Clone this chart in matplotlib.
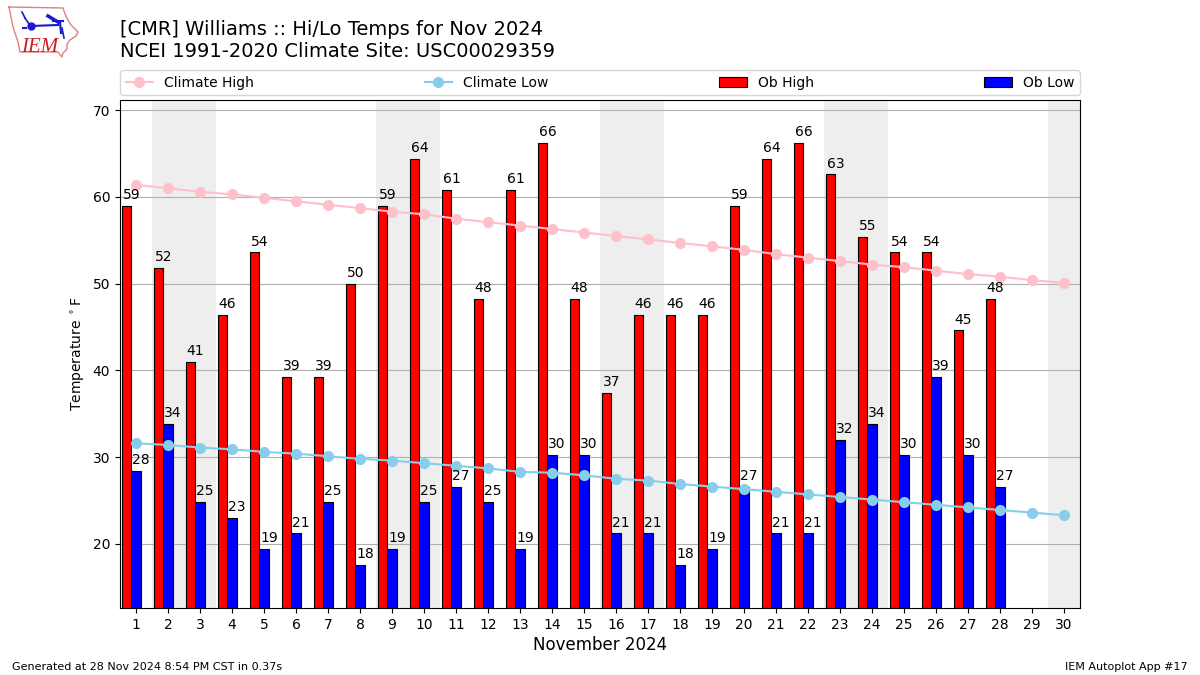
#!/usr/bin/env python3

import matplotlib
matplotlib.use('Agg')
from matplotlib import pyplot as plt
from matplotlib.lines import Line2D

days = list(range(1, 31))
ob_days = list(range(1, 29))
weekend_spans = [(2, 3), (9, 10), (16, 17), (23, 24), (30, 30)]

ob_high = [59, 51.8, 41, 46.4, 53.6, 39.2, 39.2, 50, 59, 64.4, 60.8, 48.2, 60.8, 66.2,
           48.2, 37.4, 46.4, 46.4, 46.4, 59, 64.4, 66.2, 62.6, 55.4, 53.6, 53.6, 44.6, 48.2]
ob_low = [28.4, 33.8, 24.8, 23, 19.4, 21.2, 24.8, 17.6, 19.4, 24.8, 26.6, 24.8, 19.4, 30.2,
          30.2, 21.2, 21.2, 17.6, 19.4, 26.6, 21.2, 21.2, 32, 33.8, 30.2, 39.2, 30.2, 26.6]
climate_high = [61.4, 61.0, 60.6, 60.3, 59.9, 59.5, 59.1, 58.7, 58.3, 58.0, 57.5, 57.1, 56.7, 56.3, 55.9,
                55.5, 55.1, 54.7, 54.3, 53.9, 53.4, 53.0, 52.6, 52.2, 51.9, 51.5, 51.1, 50.8, 50.4, 50.1]
climate_low = [31.6, 31.4, 31.1, 30.9, 30.6, 30.4, 30.1, 29.8, 29.6, 29.3, 29.0, 28.7, 28.3, 28.2, 27.9,
               27.5, 27.3, 26.9, 26.6, 26.3, 26.0, 25.7, 25.4, 25.1, 24.8, 24.5, 24.2, 23.9, 23.6, 23.3]

W, H = 1200, 675
BAR_W = 0.3

fig = plt.figure(figsize=(12, 6.75), dpi=100)
ax = fig.add_axes([120 / W, 1 - 608 / H, 960 / W, 508 / H])

for start, end in weekend_spans:
    ax.axvspan(start - 0.5, end + 0.5, color='#eeeeee', lw=0, zorder=0)

ax.grid(True, axis='y', color='#b0b0b0', lw=0.8, zorder=1)
ax.set_axisbelow(True)

# the high bar sits left of the day, the low bar is centered on it
bars_high = ax.bar([d - BAR_W for d in ob_days], ob_high, BAR_W, color='red',
                   edgecolor='k', lw=0.8, label='Ob High', zorder=2)
bars_low = ax.bar(ob_days, ob_low, BAR_W, color='blue',
                  edgecolor='k', lw=0.8, label='Ob Low', zorder=2)

for bars, vals in ((bars_high, ob_high), (bars_low, ob_low)):
    for bar, val in zip(bars, vals):
        ax.text(bar.get_x() + 0.03, val + 0.45, '%.0f' % val, ha='left', va='bottom',
                fontsize=10, color='k', zorder=4)

line_high, = ax.plot(days, climate_high, '-o', color='pink', lw=1.5, ms=7, label='Climate High', zorder=3)
line_low, = ax.plot(days, climate_low, '-o', color='skyblue', lw=1.5, ms=7, label='Climate Low', zorder=3)

ax.set_xlim(0.5, 30.5)
ax.set_ylim(12.6, 71.18)
ax.set_xticks(days)
ax.set_yticks([20, 30, 40, 50, 60, 70])
ax.tick_params(labelsize=10)
ax.set_xlabel('November 2024', fontsize=12, labelpad=3)
ax.set_ylabel(r'Temperature $^\circ$F', fontsize=10)

ax.legend(handles=[line_high, line_low, bars_high, bars_low], loc='lower left',
          bbox_to_anchor=(0, 1.0095, 1, 0.05), mode='expand', ncol=4, borderaxespad=0, fontsize=10)

fig.text(120 / W, 1 - 35 / H, '[CMR] Williams :: Hi/Lo Temps for Nov 2024', fontsize=14, ha='left', va='baseline')
fig.text(120 / W, 1 - 57 / H, 'NCEI 1991-2020 Climate Site: USC00029359', fontsize=14, ha='left', va='baseline')
fig.text(12 / W, 1 - 670 / H, 'Generated at 28 Nov 2024 8:54 PM CST in 0.37s', fontsize=8, ha='left', va='baseline')
fig.text(1188 / W, 1 - 670 / H, 'IEM Autoplot App #17', fontsize=8, ha='right', va='baseline')


def px(xs, ys):
    return [x / W for x in xs], [1 - y / H for y in ys]


# IEM logo, iowa outline with the network glyph
logo_x = [9, 63, 65, 68, 71, 78, 76, 70, 67, 67, 63, 62, 58, 20, 18, 15, 13, 9]
logo_y = [7, 8, 14, 20, 25, 32, 36, 40, 44, 49, 53, 57, 52, 52, 42, 33, 27, 7]
xs, ys = px(logo_x, logo_y)
fig.add_artist(Line2D(xs, ys, color='#e08080', lw=1))
glyphs = [
    ([31, 58], [26, 25], 1.5),
    ([60, 61], [22, 33], 1.5),
    ([48, 58], [16, 22], 2.5),
    ([53, 63], [21, 21], 1.5),
    ([22, 25], [12, 18], 1.2),
    ([25, 29], [18, 24], 1.2),
    ([62, 64], [28, 38], 1.2),
    ([23, 26], [28, 28], 1.5),
]
for gx, gy, glw in glyphs:
    xs, ys = px(gx, gy)
    fig.add_artist(Line2D(xs, ys, color='#1a1acc', lw=glw))
xs, ys = px([31], [26])
fig.add_artist(Line2D(xs, ys, color='#1a1acc', marker='o', ms=5))
fig.text(21 / W, 1 - 52 / H, 'IEM', fontsize=15, color='#c82020', family='Liberation Serif',
         style='italic', ha='left', va='baseline')

plt.savefig('out.png', dpi=100)
plt.close()
